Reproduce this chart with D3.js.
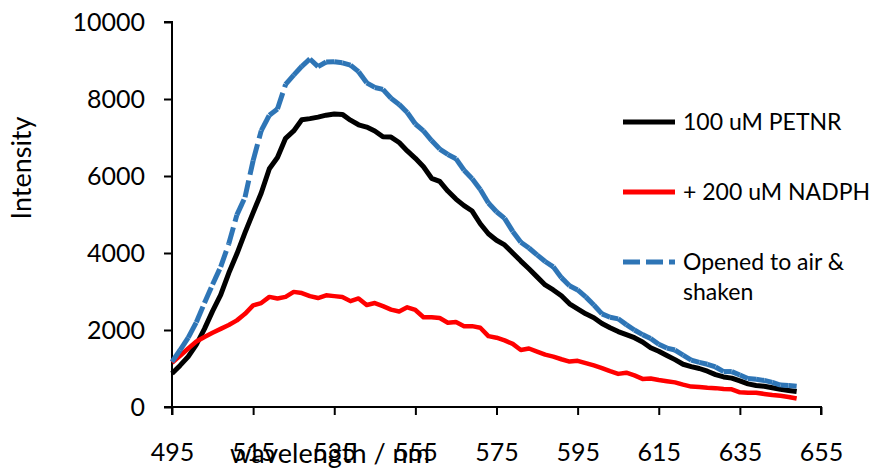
<!DOCTYPE html>
<html>
<head>
<meta charset="utf-8">
<script src="https://cdn.jsdelivr.net/npm/d3@7"></script>
<style>
  body { margin: 0; background: #fff; }
  svg text { font-family: Lato, "Open Sans", sans-serif; fill: #000; }
</style>
</head>
<body>
<div id="chart"></div>
<script>
const width = 873
const height = 468

// wavelength in nm, every 2 nm
const wavelengths = d3.range(495, 650, 2)

const petnr = [870,1080,1310,1620,2030,2490,2910,3480,3980,4530,5050,5560,6190,6480,6980,7170,7460,7490,7530,7580,
  7610,7600,7450,7330,7270,7170,7020,7010,6870,6650,6460,6240,5940,5860,5610,5400,5230,5090,4760,4500,
  4330,4210,4000,3790,3590,3380,3170,3040,2890,2680,2550,2420,2320,2170,2060,1960,1880,1800,1690,1540,
  1450,1340,1230,1110,1050,1000,930,840,780,750,680,600,560,540,500,460,430,400]

const nadph = [1150,1330,1520,1700,1820,1930,2030,2130,2250,2420,2640,2700,2860,2820,2860,2990,2960,2880,2830,2900,
  2880,2860,2750,2820,2650,2700,2620,2530,2480,2590,2520,2330,2330,2310,2190,2210,2100,2100,2060,1840,
  1800,1730,1640,1480,1520,1440,1360,1310,1240,1180,1200,1140,1080,1010,930,860,890,820,730,740,
  700,670,640,580,530,520,500,490,470,460,380,370,370,340,310,290,260,220]

const opened = [1170,1480,1800,2200,2700,3180,3640,4240,4990,5450,6400,7180,7580,7740,8380,8620,8850,9040,8840,8960,
  8970,8940,8880,8710,8420,8300,8250,8020,7860,7650,7350,7170,6920,6700,6560,6450,6150,5930,5650,5300,
  5070,4900,4560,4280,4130,3950,3780,3640,3360,3150,3040,2860,2650,2420,2330,2290,2140,2000,1880,1780,
  1630,1530,1480,1350,1220,1160,1110,1040,920,920,830,740,720,690,640,570,560,540]

const seriesNames = ["100 uM PETNR", "+ 200 uM NADPH", "Opened to air & shaken"]
const seriesColors = ["#000000", "#ff0000", "#2e75b6"]
const seriesWidths = [5, 4.5, 5]
const xTicks = [495, 515, 535, 555, 575, 595, 615, 635, 655]
const yTicks = [0, 2000, 4000, 6000, 8000, 10000]

const svg = d3.select("#chart").append("svg")
    .attr("width", width)
    .attr("height", height)

const x = d3.scaleLinear().domain([495, 655]).range([172, 821])
const y = d3.scaleLinear().domain([0, 10000]).range([407, 22])

// axes
const xAxis = svg.append("g")
    .attr("transform", `translate(0,${y(0)})`)
    .call(d3.axisBottom(x).tickValues(xTicks).tickSize(8).tickPadding(28).tickFormat(d3.format("d")))
const yAxis = svg.append("g")
    .attr("transform", `translate(${x(495)},0)`)
    .call(d3.axisLeft(y).tickValues(yTicks).tickSize(8).tickPadding(19).tickFormat(d3.format("d")))

for (const ax of [xAxis, yAxis]) {
    ax.select(".domain").attr("stroke", "#000").attr("stroke-width", 2)
    ax.selectAll(".tick line").attr("stroke", "#000").attr("stroke-width", 2)
    ax.selectAll(".tick text").attr("font-size", 25).attr("font-family", "Lato, sans-serif")
}
xAxis.select(".domain").attr("d", `M${x(495)},8V0H${x(655)}V8`)
yAxis.select(".domain").attr("d", `M-8,${y(10000)}H0V${y(0)}H-8`)

// axis titles
svg.append("text")
    .attr("transform", `translate(31,168) rotate(-90)`)
    .attr("text-anchor", "middle")
    .attr("font-size", 27)
    .text("Intensity")
svg.append("text")
    .attr("x", 330)
    .attr("y", 463)
    .attr("text-anchor", "middle")
    .attr("font-size", 27)
    .text("wavelength / nm")

// lines
const pts = s => wavelengths.map((w, i) => [w, s[i]])
const line = d3.line().x(d => x(d[0])).y(d => y(d[1]))

for (const [i, s] of [petnr, nadph].entries()) {
    svg.append("path")
        .datum(pts(s))
        .attr("d", line)
        .attr("fill", "none")
        .attr("stroke", seriesColors[i])
        .attr("stroke-width", seriesWidths[i])
        .attr("stroke-linejoin", "round")
}

// dashed series, dash pattern restarts on each segment
const bluePts = pts(opened)
svg.append("g").selectAll("path")
    .data(d3.pairs(bluePts))
    .join("path")
    .attr("d", d => line(d))
    .attr("fill", "none")
    .attr("stroke", seriesColors[2])
    .attr("stroke-width", seriesWidths[2])
    .attr("stroke-dasharray", "17,6")

// legend
const legendY = [122, 192, 262]
const legend = svg.append("g")
for (let i = 0; i < 3; i++) {
    legend.append("line")
        .attr("x1", 623).attr("x2", 675)
        .attr("y1", legendY[i]).attr("y2", legendY[i])
        .attr("stroke", seriesColors[i])
        .attr("stroke-width", 5)
        .attr("stroke-dasharray", i == 2 ? "17,6" : null)
}
legend.append("text").attr("x", 683).attr("y", legendY[0]).attr("dy", "0.35em").attr("font-size", 23).text(seriesNames[0])
legend.append("text").attr("x", 683).attr("y", legendY[1]).attr("dy", "0.35em").attr("font-size", 23).text(seriesNames[1])
legend.append("text").attr("x", 683).attr("y", legendY[2]).attr("dy", "0.35em").attr("font-size", 23).text("Opened to air &")
legend.append("text").attr("x", 683).attr("y", legendY[2] + 30).attr("dy", "0.35em").attr("font-size", 23).text("shaken")
</script>
</body>
</html>
